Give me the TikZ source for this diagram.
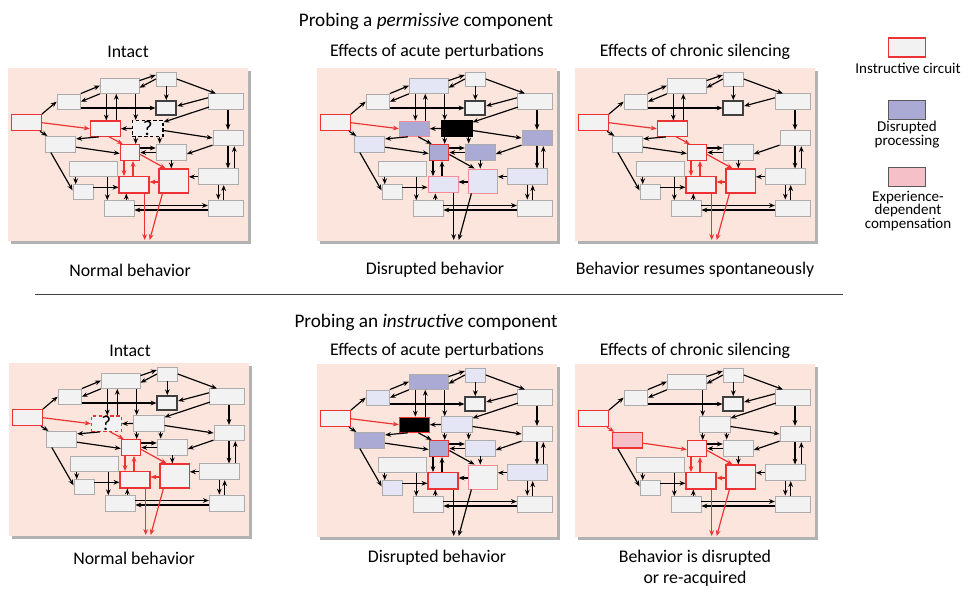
\documentclass[tikz,border=0pt]{standalone}
\usepackage{fontspec}
\setmainfont{Carlito}
\usetikzlibrary{arrows.meta, calc}

\definecolor{panelbg}{RGB}{252,229,220}
\definecolor{boxfill}{RGB}{242,242,242}
\definecolor{boxline}{RGB}{172,172,172}
\definecolor{cred}{RGB}{236,50,50}
\definecolor{pinkline}{RGB}{244,140,150}
\definecolor{lavdark}{RGB}{170,170,212}
\definecolor{lavlight}{RGB}{228,229,245}
\definecolor{comp}{RGB}{246,192,200}
\definecolor{complight}{RGB}{253,232,236}

\newif\ifshowq \showqtrue
\newif\ifshowg \showgtrue
\def\qlabel{}
\def\glabel{}

\tikzset{
  box/.style={draw=boxline, fill=boxfill, line width=0.8pt, inner sep=0pt, font=\fontsize{18}{18}\selectfont},
  redbox/.style={draw=cred, line width=1pt},
  probe/.style={draw=black, densely dashed, line width=1pt},
  silenced/.style={fill=black, draw=black},
  lavd/.style={fill=lavdark},
  lavl/.style={fill=lavlight},
  arr/.style={-{Stealth[length=5pt,width=4pt]}, line width=1pt},
  red arr/.style={color=cred},
  core arr/.style={red arr},
  feed arr/.style={red arr},
  ai arr/.style={},
  ij arr/.style={},
  mk/.style={st #1/.style={}},
  mk/.list={a,b,c,d,e,f,g,h,i,j,k,l,m,n,o,p,q,r,s},
  st e/.style={draw=black!75, line width=1.4pt},
  heading/.style={font=\fontsize{16.4}{19}\selectfont},
  title/.style={font=\fontsize{15.2}{18}\selectfont},
  legend/.style={font=\fontsize{12.8}{11.9}\selectfont, align=center}
}

% one box of the circuit, placed relative to the panel corner
\newcommand{\bx}[6][]{\node[box, st #2, minimum width=#5*0.3mm, minimum height=#6*0.3mm] (#2) at ({\ox+#3},{\oy+#4}) {#1};}
% vertical and horizontal arrows
\newcommand{\varr}[4][]{\path ($(#2)+(#3,0)$) coordinate (t); \draw[arr,#1] (t) -- (t |- #4);}
\newcommand{\harr}[4][]{\path ($(#2)+(0,#3)$) coordinate (t); \draw[arr,#1] (t) -- (t -| #4);}

\newcommand{\drawcircuit}{%
  \fill[black!30] ({\ox+2.5},{\oy+2.5}) rectangle ++(240,173);
  \fill[panelbg] (\ox,\oy) rectangle ++(240,173);
  % boxes
  \bx{a}{18.3}{54.7}{30}{16}
  \bx{b}{60.7}{33.7}{23.3}{15.3}
  \bx{c}{111.7}{17.7}{38.7}{15.3}
  \bx{d}{158.3}{11}{20}{14}
  \bx{e}{158.3}{40}{20}{14}
  \bx{f}{217.7}{33.8}{34.7}{15.7}
  \ifshowg \bx[\glabel]{g}{97.3}{60.7}{30}{15.3} \fi
  \ifshowq \bx[\qlabel]{q}{139.7}{60.5}{30.7}{15.7} \fi
  \bx{h}{220}{70}{30}{15.3}
  \bx{i}{52.7}{76.2}{30}{15.7}
  \bx{j}{122}{84.5}{19.3}{15.7}
  \bx{k}{163.3}{84}{30}{16}
  \bx{l}{85}{101}{48}{15.3}
  \bx{m}{126}{116.8}{30}{16.3}
  \bx{n}{165.7}{113}{29.3}{24}
  \bx{o}{210.3}{108.8}{40}{15.7}
  \bx{p}{75}{124.3}{20}{15.3}
  \bx{r}{111}{140.5}{30}{15.7}
  \bx{s}{217.7}{140}{34.7}{16}
  \coordinate (out) at ({\ox+139},{\oy+172});
  % input side
  \draw[arr] (a.north east) -- (b.west);
  \draw[arr, ai arr] (a) -- (i);
  \ifshowg \draw[arr, feed arr] (a.east) -- (g.west); \fi
  % upper part
  \draw[arr] (b.north east) -- (c.west);
  \draw[arr] (c.south west) -- (b.east);
  \harr{b.east}{6.3}{e.west}
  \draw[arr] ($(c.north east)+(0,3)$) -- ($(d.west)+(0,-4)$);
  \draw[arr] (d.west) -- ($(c.east)+(0,2)$);
  \varr{d.south}{0}{e.north}
  \draw[arr] (d.east) -- ($(f.north west)+(8,0)$);
  \draw[arr] ($(f.west)+(0,-4)$) -- ($(e.east)+(0,-2)$);
  \varr{f.south}{2.3}{h.north}
  \ifshowg
    \varr{c.south}{-13.4}{g.north}
    \varr{g.north}{11}{c.south}
    \draw[arr] ($(g.south west)+(9,0)$) -- ($(i.north east)+(0,3)$);
    \draw[arr, core arr] ($(g.south)+(4,0)$) -- ($(j.north west)+(3,0)$);
  \fi
  \ifshowq
    \draw[arr] ($(f.south west)+(1,-3)$) -- ($(q.north east)+(0,2)$);
    \varr{c.south}{16}{q.north}
    \draw[arr] ($(q.east)+(0,2)$) -- (h.west);
    \varr{q.south}{-12}{j.north}
    \varr{q.south}{12}{k.north}
    \ifshowg \draw[arr] (q.west) -- (g.east); \fi
  \fi
  % middle and lower part
  \draw[arr, ij arr] ($(i.east)+(0,3)$) -- ($(j.west)+(0,1)$);
  \draw[arr] ($(i.south west)+(5.6,0)$) -- ($(p.west)+(0,-2)$);
  \harr{j.east}{-4.5}{k.west}
  \harr{k.west}{0.5}{j.east}
  \draw[arr] ($(h.south west)+(0,-1)$) -- ($(k.east)+(0,2)$);
  \varr{k.south}{0}{n.north}
  \draw[arr, core arr] ($(j.east)+(0,2)$) -- ($(n.north west)+(7,0)$);
  \varr[core arr]{j.south}{-6}{m.north}
  \varr[core arr]{m.north}{-1}{j.south}
  \harr[core arr]{n.west}{1}{m.east}
  \harr{o.west}{0}{n.east}
  \varr{h.south}{0}{o.north}
  \varr{o.north}{16}{h.south}
  \varr{o.south}{0}{s.north}
  \varr{s.north}{-2}{o.south}
  \varr{l.south}{-17.3}{p.north}
  \varr{l.south}{14.3}{r.north}
  \harr{p.east}{-5}{m.west}
  \varr{r.north}{7.3}{m.south}
  \harr{r.east}{-3}{s.west}
  \harr{s.west}{2}{r.east}
  % behavioural output
  \varr[core arr]{m.south}{10.7}{out}
  \draw[arr, core arr] ($(n.south)+(-11.3,0)$) -- ($(out)+(2.7,0)$);
}

\begin{document}
\begin{tikzpicture}[x=0.3mm, y=-0.3mm]
    \useasboundingbox (0,0) rectangle (965,589);

    % Permissive component
    \node[heading] (headP) at (426,21) {Probing a \textit{permissive} component};
    \node[title] (titP1) at (128,52) {Intact};
    \node[title] (titP2) at (437,52) {Effects of acute perturbations};
    \node[title] (titP3) at (695,52) {Effects of chronic silencing};

    \begin{scope}[st a/.style=redbox, st g/.style=redbox, st j/.style=redbox,
                  st m/.style=redbox, st n/.style=redbox, st q/.style=probe]
        \def\ox{8}\def\oy{68}\def\qlabel{?}
        \drawcircuit
    \end{scope}

    \begin{scope}[st a/.style=redbox, st g/.style={lavd, draw=pinkline},
                  st j/.style={lavd, redbox, line width=1.2pt},
                  st m/.style={lavl, draw=pinkline}, st n/.style={lavl, draw=pinkline},
                  st q/.style=silenced, st c/.style=lavl, st i/.style=lavl,
                  st k/.style=lavd, st h/.style=lavd, st o/.style=lavl, core arr/.style={}]
        \def\ox{317}\def\oy{68}
        \drawcircuit
    \end{scope}

    \begin{scope}[st a/.style=redbox, st g/.style=redbox, st j/.style=redbox,
                  st m/.style=redbox, st n/.style=redbox]
        \def\ox{575}\def\oy{68}\showqfalse
        \drawcircuit
    \end{scope}

    \node[title] (capP1) at (130,270) {Normal behavior};
    \node[title] (capP2) at (435,270) {Disrupted behavior};
    \node[title] (capP3) at (695,270) {Behavior resumes spontaneously};

    \draw[line width=0.8pt, black!75] (35,294) -- (843,294);

    % Instructive component
    \node[heading] (headI) at (426,322) {Probing an \textit{instructive} component};
    \node[title] (titI1) at (130,351) {Intact};
    \node[title] (titI2) at (437,351) {Effects of acute perturbations};
    \node[title] (titI3) at (695,351) {Effects of chronic silencing};

    \begin{scope}[st a/.style=redbox, st g/.style={probe, draw=cred}, st j/.style=redbox,
                  st m/.style=redbox, st n/.style=redbox]
        \def\ox{9}\def\oy{363}\def\glabel{?}
        \drawcircuit
    \end{scope}

    \begin{scope}[st a/.style=redbox, st g/.style={silenced, draw=cred},
                  st c/.style=lavd, st i/.style=lavd, st j/.style={lavd, redbox, line width=1.2pt},
                  st b/.style=lavl, st d/.style=lavl, st q/.style=lavl, st k/.style=lavl,
                  st m/.style={lavl, redbox}, st o/.style=lavl, st p/.style=lavl,
                  st n/.style={draw=pinkline}, core arr/.style={}]
        \def\ox{317}\def\oy{364}
        \drawcircuit
    \end{scope}

    \begin{scope}[st a/.style=redbox, st i/.style={fill=comp, redbox},
                  st j/.style={fill=complight, redbox}, st m/.style=redbox,
                  st n/.style=redbox, ai arr/.style=red arr, ij arr/.style=red arr]
        \def\ox{575}\def\oy{364}\showgfalse
        \drawcircuit
    \end{scope}

    \node[title] (capI1) at (134,558) {Normal behavior};
    \node[title] (capI2) at (437,558) {Disrupted behavior};
    \node[title, align=center, font=\fontsize{15.2}{17.8}\selectfont] (capI3) at (695,568.5) {Behavior is disrupted\\or re-acquired};

    % Legend
    \node[box, redbox, minimum width=37*0.3mm, minimum height=19*0.3mm] (keyA) at (907,47.5) {};
    \node[legend] (keyAtxt) at (908,68) {Instructive circuit};
    \node[box, fill=lavdark, draw=black!65, minimum width=37*0.3mm, minimum height=19*0.3mm] (keyB) at (907,109.5) {};
    \node[legend] (keyBtxt) at (907,135) {Disrupted\\processing};
    \node[box, fill=comp, draw=black!65, minimum width=37*0.3mm, minimum height=19*0.3mm] (keyC) at (907,177) {};
    \node[legend] (keyCtxt) at (908,211) {Experience-\\dependent\\compensation};
\end{tikzpicture}
\end{document}
